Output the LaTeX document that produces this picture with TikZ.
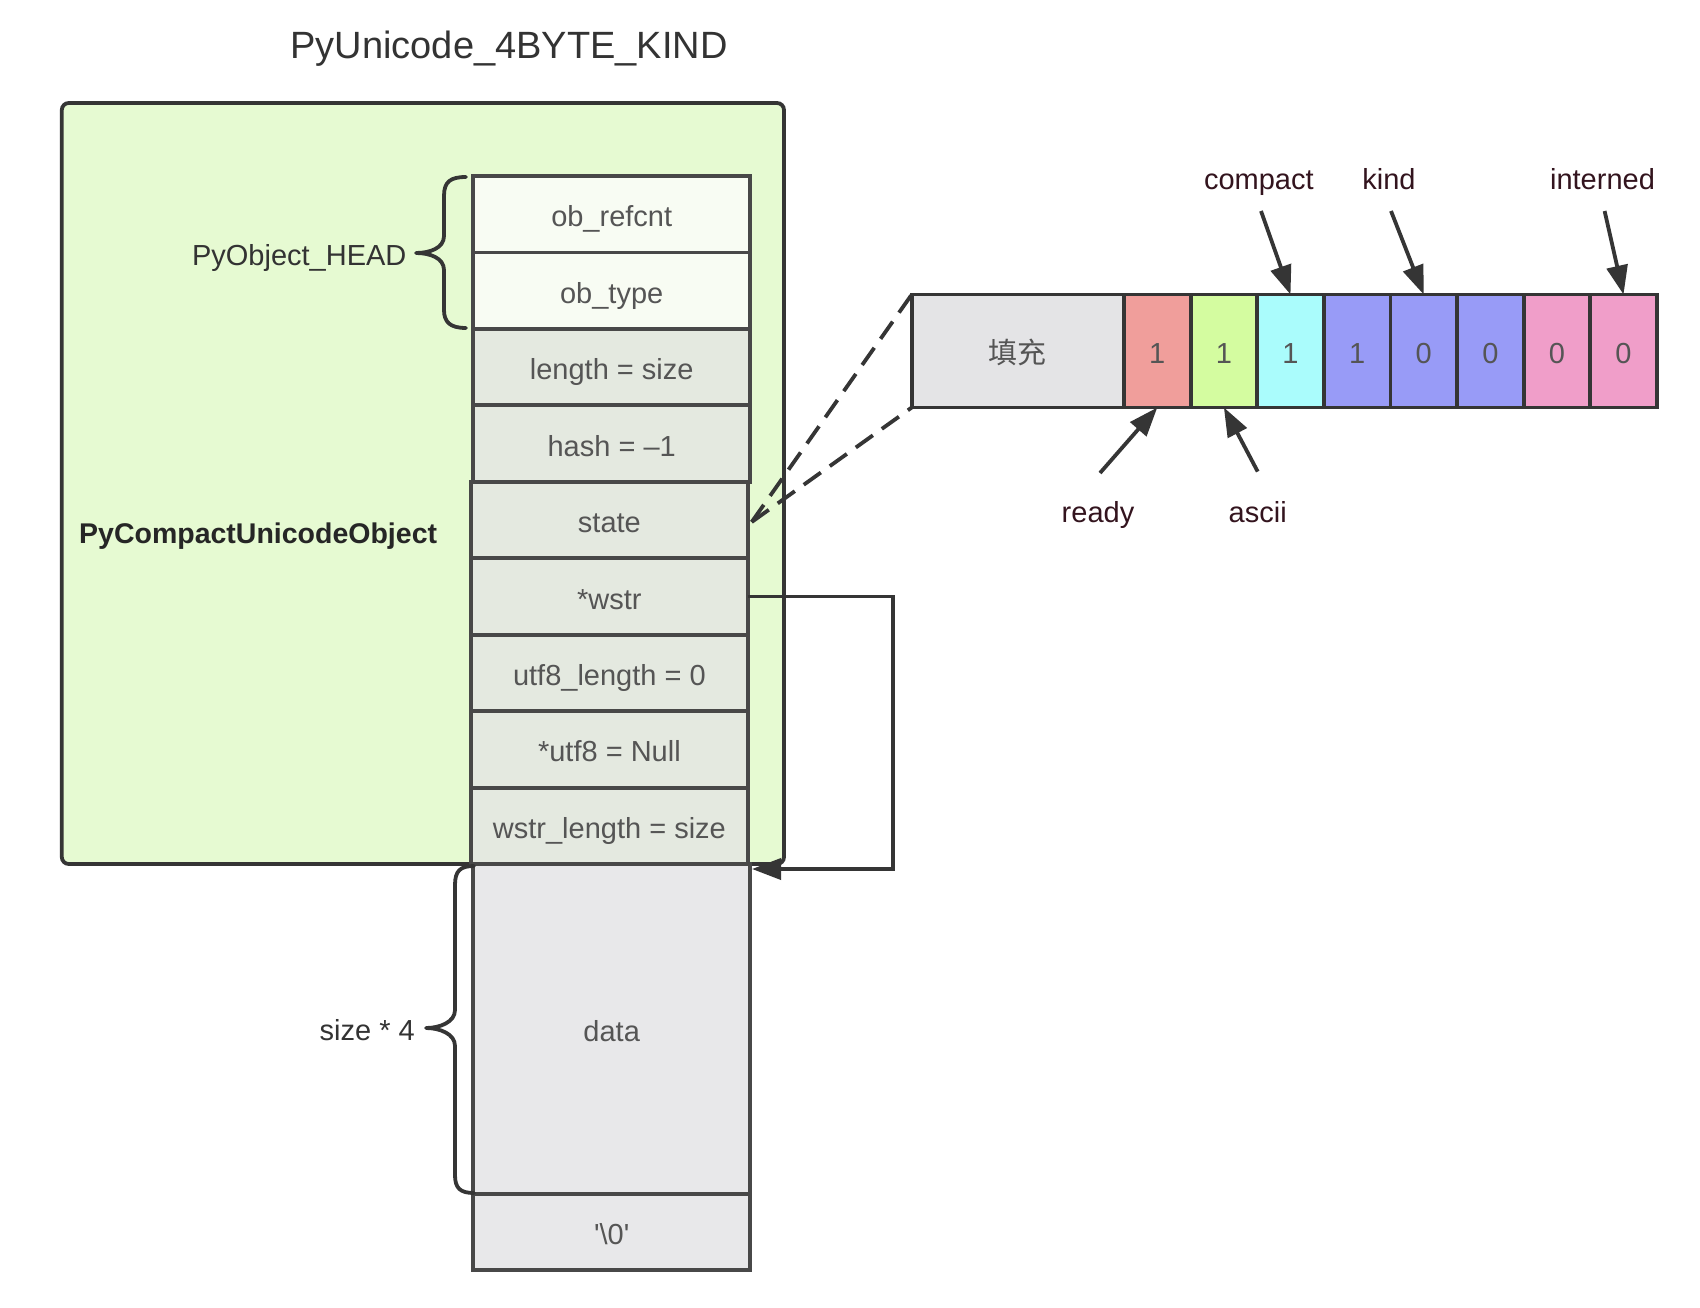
\documentclass[tikz,border=0pt]{standalone}
\usepackage{fontspec}
\setmainfont{Liberation Sans}
\newfontfamily\cjk{Noto Sans CJK SC}
\usetikzlibrary{arrows.meta,calc}
\definecolor{greenbg}{HTML}{E6FAD2}
\definecolor{headfill}{HTML}{F8FCF3}
\definecolor{midfill}{HTML}{E4E9E0}
\definecolor{datafill}{HTML}{E8E8EA}
\definecolor{padfill}{HTML}{E4E4E6}
\definecolor{redbit}{HTML}{F09E9B}
\definecolor{greenbit}{HTML}{D4FCA0}
\definecolor{cyanbit}{HTML}{AAFCFC}
\definecolor{bluebit}{HTML}{989BF7}
\definecolor{pinkbit}{HTML}{F09EC9}
\definecolor{edge}{HTML}{353535}
\definecolor{celledge}{HTML}{484848}
\definecolor{celltext}{HTML}{555555}
\definecolor{darktext}{HTML}{333333}
\definecolor{maroon}{HTML}{33141E}
\tikzset{
  txt/.style={font=\fontsize{29}{34}\selectfont, text height=25.2pt, text depth=0pt, inner sep=0pt},
  cell/.style={txt, draw=celledge, line width=3.8pt, text=celltext, minimum width=277pt, minimum height=76.4pt, outer sep=0pt},
  bitcell/.style={txt, draw=edge, line width=3.8pt, text=celltext, minimum width=66.6pt, minimum height=113pt, outer sep=0pt},
  bitlabel/.style={txt, text=maroon},
  ptr/.style={draw=edge, line width=3.8pt, -{Triangle[length=29pt,width=21pt]}},
  bracestyle/.style={draw=edge, line width=3.8pt, line join=round, line cap=round},
  dashline/.style={draw=edge, line width=3.8pt, dash pattern=on 21pt off 11pt}
}
\begin{document}
\begin{tikzpicture}[x=1pt,y=-1pt]
\path[fill=white,use as bounding box] (0,0) rectangle (1700,1308);

% title
\node[txt, font=\fontsize{38}{44}\selectfont, text height=31pt, text depth=4pt, text=darktext] (title) at (509,45) {PyUnicode\_4BYTE\_KIND};

% green container
\draw[draw=edge, fill=greenbg, line width=3.8pt, rounded corners=7pt] (61.8,103) rectangle (784,864);

% column cells
\node[cell, fill=headfill] (refcnt) at (611.7,214.2) {ob\_refcnt};
\node[cell, fill=headfill] (type) at (611.7,290.7) {ob\_type};
\node[cell, fill=midfill] (length) at (611.7,367.1) {length = size};
\node[cell, fill=midfill] (hash) at (611.7,443.5) {hash = –1};
\node[cell, fill=midfill] (state) at (609.4,520) {state};
\node[cell, fill=midfill] (wstr) at (609.4,596.4) {*wstr};
\node[cell, fill=midfill] (u8len) at (609.4,672.9) {utf8\_length = 0};
\node[cell, fill=midfill] (u8) at (609.4,749.3) {*utf8 = Null};
\node[cell, fill=midfill] (wlen) at (609.4,825.8) {wstr\_length = size};
\node[cell, fill=datafill, minimum height=329.7pt] (data) at (611.7,1028.9) {data};
\node[cell, fill=datafill, minimum height=75.9pt] (nul) at (611.7,1231.7) {\textquotesingle\textbackslash 0\textquotesingle};

% labels on the left
\node[txt, anchor=east, text=darktext] (headlbl) at (406.6,253) {PyObject\_HEAD};
\node[txt, anchor=west, font=\fontsize{28.5}{34}\selectfont\bfseries, text=black!85] (objlbl) at (79,531) {PyCompactUnicodeObject};
\node[txt, anchor=east, text=darktext] (sizelbl) at (415,1028) {size * 4};

% braces
\draw[bracestyle] (466,177) .. controls (450,177) and (444,182) .. (444,196) -- (444,236)
   .. controls (444,248) and (430,253) .. (416,253)
   .. controls (430,253) and (444,258) .. (444,270) -- (444,310)
   .. controls (444,322) and (450,328) .. (466,328);
\draw[bracestyle] (474,866) .. controls (460,866) and (455,871) .. (455,885) -- (455,1010)
   .. controls (455,1022) and (440,1028) .. (426,1028)
   .. controls (440,1028) and (455,1034) .. (455,1046) -- (455,1175)
   .. controls (455,1188) and (460,1193) .. (474,1193);

% bit field
\node[bitcell, fill=padfill, minimum width=212.3pt, font=\cjk\fontsize{29}{34}\selectfont] (pad) at (1017.9,351) {填充};
\node[bitcell, fill=redbit] (b1) at (1157.3,351) {1};
\node[bitcell, fill=greenbit] (b2) at (1223.9,351) {1};
\node[bitcell, fill=cyanbit] (b3) at (1290.5,351) {1};
\node[bitcell, fill=bluebit] (b4) at (1357.1,351) {1};
\node[bitcell, fill=bluebit] (b5) at (1423.7,351) {0};
\node[bitcell, fill=bluebit] (b6) at (1490.3,351) {0};
\node[bitcell, fill=pinkbit] (b7) at (1556.9,351) {0};
\node[bitcell, fill=pinkbit] (b8) at (1623.5,351) {0};

% bit labels
\node[bitlabel] (lcompact) at (1258.8,176.7) {compact};
\node[bitlabel] (lkind) at (1388.9,176.7) {kind};
\node[bitlabel] (linterned) at (1602.5,176.7) {interned};
\node[bitlabel] (lready) at (1098,509.6) {ready};
\node[bitlabel] (lascii) at (1257.7,509.6) {ascii};

\coordinate (tcompact) at (1261,211);
\coordinate (tkind) at (1391,211);
\coordinate (tinterned) at (1604.6,211);
\coordinate (tready) at (1100,473);
\coordinate (tascii) at (1257.7,471.6);

\draw[ptr] (tcompact) -- (b3.north);
\draw[ptr] (tkind) -- (b5.north);
\draw[ptr] (tinterned) -- (b8.north);
\draw[ptr] (tready) -- (b1.south);
\draw[ptr] (tascii) -- (b2.south);

% dashed zoom lines
\coordinate (stateout) at (751.7,522);
\draw[dashline] (stateout) -- (pad.north west);
\draw[dashline] (stateout) -- (pad.south west);

% wstr pointer
\coordinate (wturn) at (893,869);
\coordinate (wstrin) at (752,869);
\draw[ptr, line join=miter] (wstr.east) -| (wturn) -- (wstrin);
\end{tikzpicture}
\end{document}
